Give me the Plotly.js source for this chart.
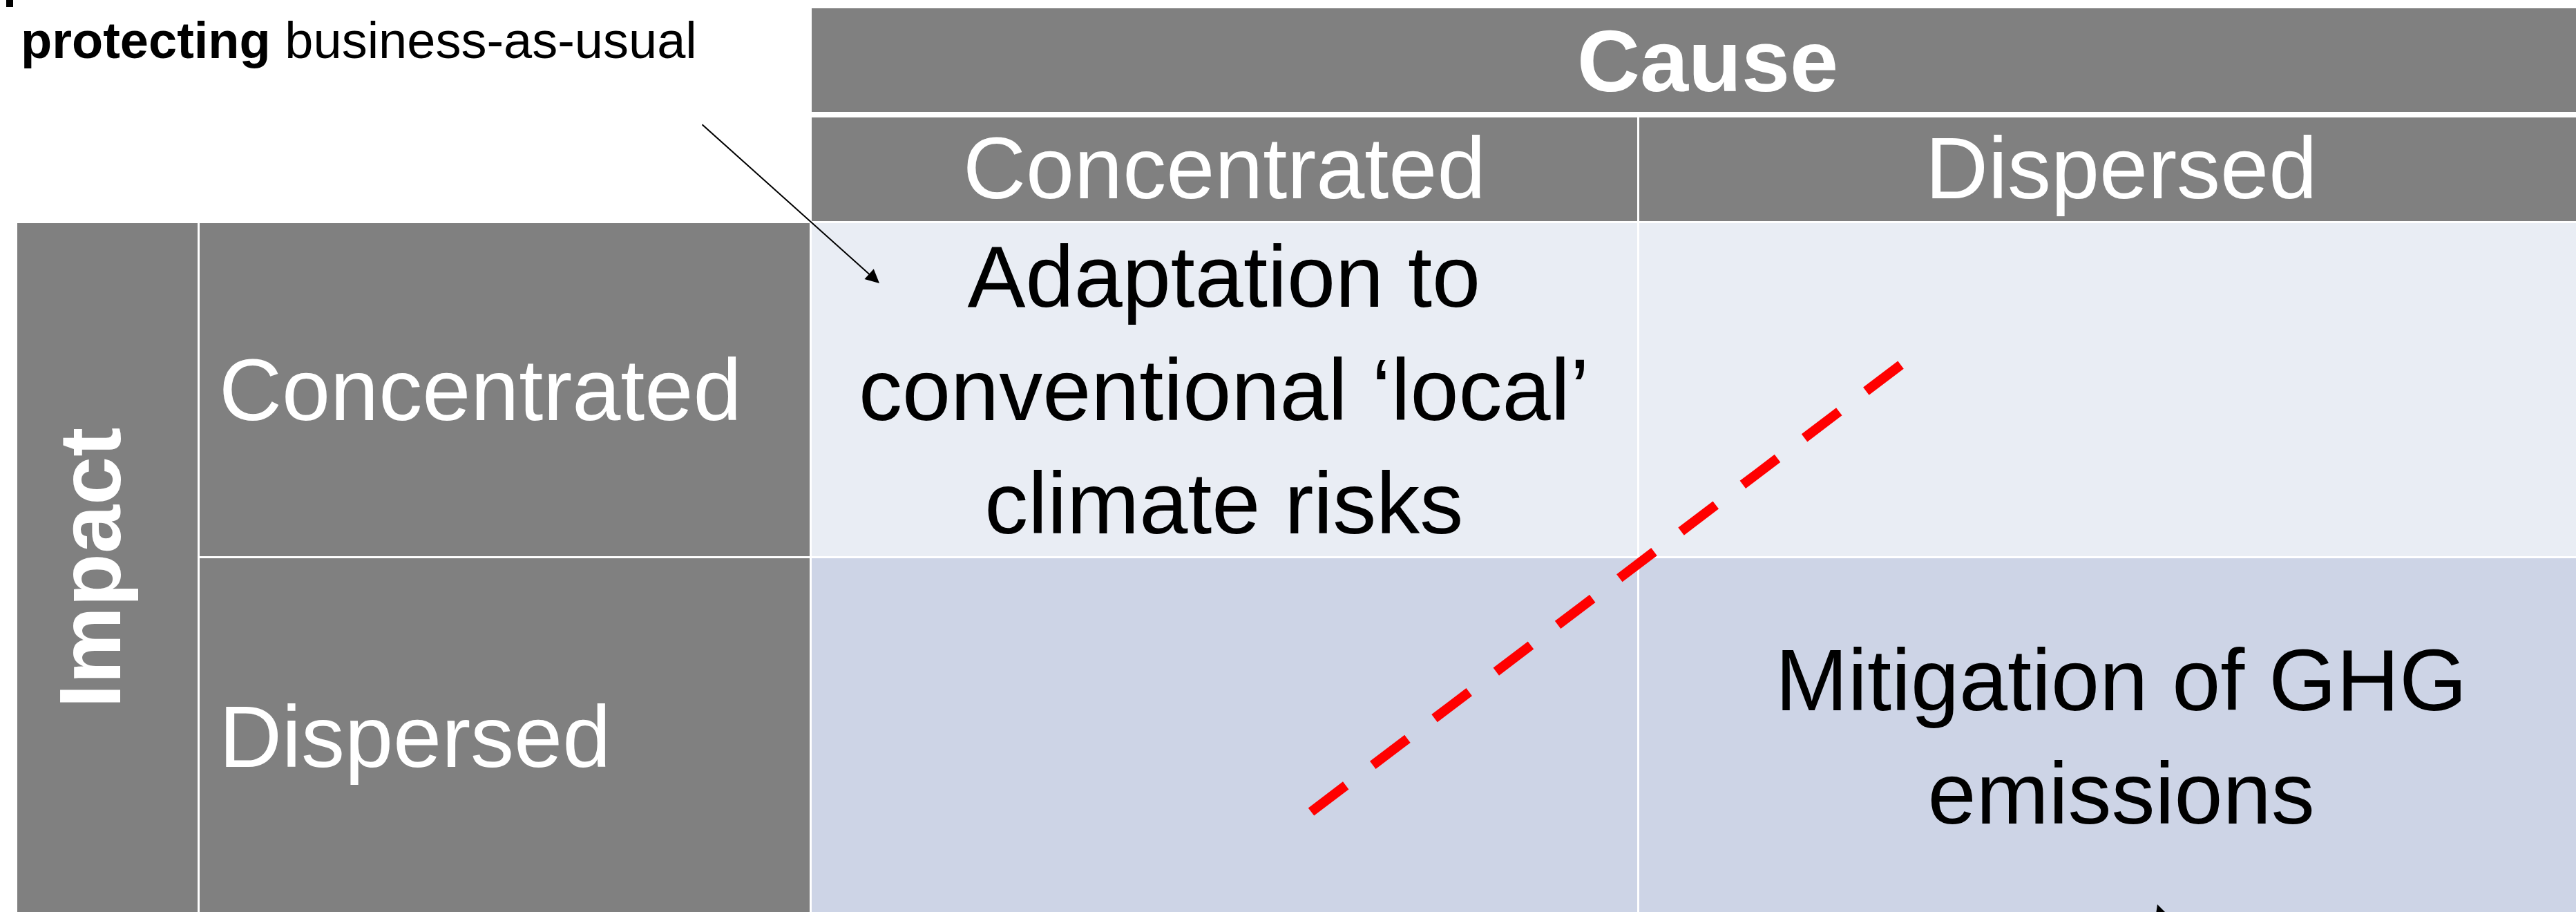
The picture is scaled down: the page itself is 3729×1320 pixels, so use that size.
<!DOCTYPE html>
<html>
<head>
<meta charset="utf-8">
<script src="https://cdn.plot.ly/plotly-3.0.1.min.js"></script>
<style>
  html, body { margin: 0; padding: 0; background: #ffffff; }
  #chart { width: 3729px; height: 1320px; }
</style>
</head>
<body>
<div id="chart"></div>
<script>
// ---------------- data ----------------
const causeTitle = 'Cause';
const impactTitle = 'Impact';
const causeLevels = ['Concentrated', 'Dispersed'];
const impactLevels = ['Concentrated', 'Dispersed'];
// cell texts: rows = impact level, columns = cause level
const cellRow1 = ['Adaptation to<br>conventional ‘local’<br>climate risks', ''];
const cellRow2 = ['', 'Mitigation of GHG<br>emissions'];
const noteText = '<b>protecting</b> business-as-usual';
// dashed boundary line endpoints (page units)
const dividerX = [1898, 2753];
const dividerY = [1175, 527];

// ---------------- layout geometry / styles ----------------
const W = 3729, H = 1320;
const FONT = 'Liberation Sans, Arial, Helvetica, sans-serif';
const GRAY = '#808080';
const rowFills = ['#E9EDF4', '#CDD4E6'];
const colEdges = [[1175, 2370], [2373, 3780]];
const rowEdges = [[323, 805], [808, 1340]];
const colTextX = [1772, 3070];
const rowTextY = [564, 1066];

const shapes = [];
function rect(x0, x1, y0, y1, fill) {
  shapes.push({type: 'rect', xref: 'x', yref: 'y', x0: x0, x1: x1, y0: y0, y1: y1,
               fillcolor: fill, line: {width: 0}, layer: 'below'});
}
// header bars
rect(1175, 3780, 12, 162, GRAY);
colEdges.forEach(c => rect(c[0], c[1], 170, 320, GRAY));
// impact column + row label column
rect(25, 286, 323, 1340, GRAY);
rowEdges.forEach(r => rect(289, 1172, r[0], r[1], GRAY));
// body cells
rowEdges.forEach((r, i) => colEdges.forEach(c => rect(c[0], c[1], r[0], r[1], rowFills[i])));
// small cut-off mark top-left
rect(9, 19, 0, 10, '#000000');

const annotations = [];
function txt(x, y, text, opts) {
  annotations.push(Object.assign({
    xref: 'x', yref: 'y', x: x, y: y, text: text, showarrow: false,
    xanchor: 'center', yanchor: 'middle',
    font: {family: FONT, size: 126, color: '#ffffff'}
  }, opts || {}));
}
txt(2472, 88, '<b>' + causeTitle + '</b>');
causeLevels.forEach((c, i) => txt(colTextX[i], 243, c));
impactLevels.forEach((c, i) => txt(315, rowTextY[i], c, {xanchor: 'left'}));
txt(130, 822, '<b>' + impactTitle + '</b>', {textangle: -90});
[cellRow1, cellRow2].forEach((row, i) => row.forEach((t, j) => {
  if (t) txt(colTextX[j], rowTextY[i], t, {font: {family: FONT, size: 126, color: '#000000'}});
}));
txt(28, 58, noteText, {xanchor: 'left', font: {family: FONT, size: 74, color: '#000000'}});
// arrows
annotations.push({xref: 'x', yref: 'y', axref: 'x', ayref: 'y', x: 1273, y: 410, ax: 1015, ay: 179,
  text: '', showarrow: true, arrowhead: 2, arrowsize: 2, arrowwidth: 2, arrowcolor: '#000000', standoff: 0});
annotations.push({xref: 'x', yref: 'y', axref: 'x', ayref: 'y', x: 3123, y: 1309, ax: 3160, ay: 1420,
  text: '', showarrow: true, arrowhead: 2, arrowsize: 2, arrowwidth: 2.5, arrowcolor: '#000000', standoff: 0});

const traces = [{
  type: 'scatter', mode: 'lines', x: dividerX, y: dividerY,
  line: {color: '#FF0000', width: 14, dash: '63px,49px'},
  hoverinfo: 'skip', showlegend: false
}];

const layout = {
  width: W, height: H,
  margin: {l: 0, r: 0, t: 0, b: 0, pad: 0},
  paper_bgcolor: '#ffffff', plot_bgcolor: '#ffffff',
  xaxis: {range: [0, W], visible: false, fixedrange: true},
  yaxis: {range: [H, 0], visible: false, fixedrange: true},
  showlegend: false,
  shapes: shapes,
  annotations: annotations
};

Plotly.newPlot('chart', traces, layout, {displayModeBar: false, staticPlot: true});
</script>
</body>
</html>
